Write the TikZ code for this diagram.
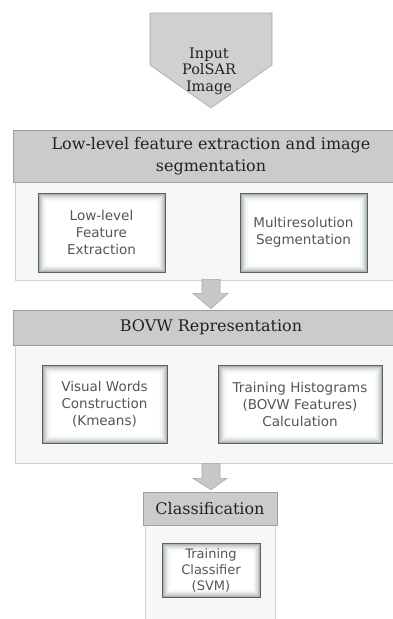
\documentclass[tikz,border=0pt]{standalone}
\usepackage{fontspec}
\setmainfont{DejaVu Serif}
\newfontfamily\boxfont{DejaVu Sans}
\usetikzlibrary{calc}
\definecolor{hdrgray}{HTML}{CBCBCB}
\definecolor{hdrline}{HTML}{9E9E9E}
\definecolor{panelfill}{HTML}{F7F7F7}
\definecolor{panelline}{HTML}{D2D2D2}
\definecolor{arrowgray}{HTML}{C8C8C8}
\definecolor{arrowline}{HTML}{A8A8A8}
\definecolor{boxtext}{HTML}{555555}
\definecolor{hdrtext}{HTML}{222222}
\definecolor{glow}{HTML}{8E9C9C}
\definecolor{boxline}{HTML}{5E5E5E}
\tikzset{
  header/.style={draw=hdrline, fill=hdrgray, line width=0.6pt, inner sep=0pt,
    text=hdrtext, font=\fontsize{16}{22}\selectfont, align=center},
  panel/.style={draw=panelline, fill=panelfill, line width=0.8pt, inner sep=0pt},
  stepbox/.style={draw=boxline, fill=white, line width=1pt, inner sep=0pt,
    text=boxtext, font=\boxfont\fontsize{13.5}{17}\selectfont, align=center,
    path picture={
      \foreach \i/\c in {1/75,2/55,3/40,4/28,5/18,6/11,7/6,8/3}{
        \draw[glow!\c, line width=1pt]
          ([shift={(\i pt,-\i pt)}]path picture bounding box.north west) rectangle
          ([shift={(-\i pt,\i pt)}]path picture bounding box.south east);
      }}},
  blockarrow/.style={draw=arrowline, fill=arrowgray, line width=0.6pt, line join=miter}
}
\begin{document}
\begin{tikzpicture}[x=1pt,y=-1pt]
\useasboundingbox (0,0) rectangle (393,619);
\clip (0,0) rectangle (393,619);
% input pentagon
\draw[draw=arrowline, fill=hdrgray!90!white, line width=0.6pt]
  (150,13) -- (272,13) -- (272,65) -- (211,108) -- (150,65) -- cycle;
\node[text=hdrtext, font=\fontsize{14.5}{16.5}\selectfont, align=center] (input) at (209,71) {Input\\PolSAR\\Image};
% section 1
\node[panel, minimum width=392pt, minimum height=98pt] (p1) at (211,231) {};
\node[header, minimum width=396pt, minimum height=52pt] (h1) at (211,156) {Low-level feature extraction and image\\segmentation};
\node[stepbox, minimum width=127pt, minimum height=79pt] (b1) at (101.5,232.5) {Low-level\\Feature\\Extraction};
\node[stepbox, minimum width=127pt, minimum height=79pt] (b2) at (303.5,232.5) {Multiresolution\\Segmentation};
% section 2
\node[panel, minimum width=392pt, minimum height=118pt] (p2) at (211,404) {};
\node[header, minimum width=396pt, minimum height=35pt] (h2) at (211,327.5) {BOVW Representation};
\node[stepbox, minimum width=125pt, minimum height=78pt] (b3) at (104.5,404) {Visual Words\\Construction\\(Kmeans)};
\node[stepbox, minimum width=164pt, minimum height=78pt] (b4) at (300,404) {Training Histograms\\(BOVW Features)\\Calculation};
% section 3
\node[panel, minimum width=130pt, minimum height=130pt] (p3) at (210,590) {};
\node[header, minimum width=134pt, minimum height=33pt] (h3) at (210,508.5) {Classification};
\node[stepbox, minimum width=98pt, minimum height=54pt, font=\boxfont\fontsize{13}{16}\selectfont] (b5) at (211,570) {Training\\Classifier\\(SVM)};
% block arrows
\draw[blockarrow] ($(p1.south)+(-9,-1)$) -- ++(0,14) -- ++(-9,0) -- ($(h2.north)+(0,-1)$) -- ($(p1.south)+(17,13)$) -- ++(-8,0) -- ++(0,-14) -- cycle;
\draw[blockarrow] ($(p2.south)+(-9,0)$) -- ++(0,15) -- ++(-9,0) -- ($(h3.north)+(1,-2)$) -- ($(p2.south)+(16,15)$) -- ++(-7,0) -- ++(0,-15) -- cycle;
\end{tikzpicture}
\end{document}
